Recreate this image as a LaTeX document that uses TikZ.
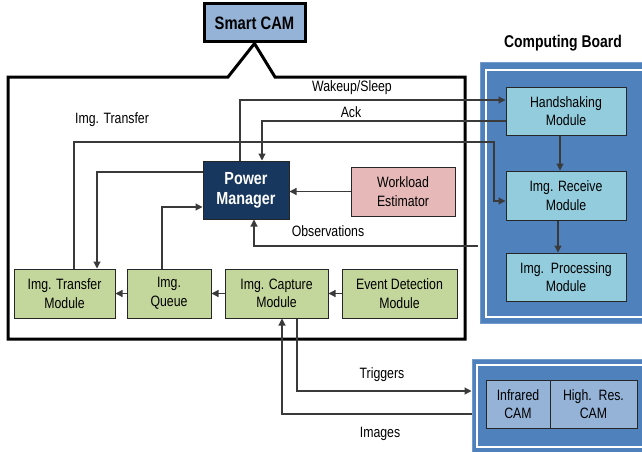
\documentclass[tikz,border=0pt]{standalone}
\usepackage{fontspec}
\setmainfont{Liberation Sans}[FakeStretch=0.82]
\usetikzlibrary{arrows.meta}
\definecolor{camblue}{HTML}{95B3D7}
\definecolor{cbblue}{HTML}{4F81BD}
\definecolor{teal}{HTML}{93CDDD}
\definecolor{navy}{HTML}{17375E}
\definecolor{pink}{HTML}{E6B9B8}
\definecolor{green}{HTML}{C3D69B}
\definecolor{linegray}{HTML}{3A3A3A}
\tikzset{
  box/.style={draw=black!85, line width=1pt, align=center, inner sep=0pt,
    font=\fontsize{15}{18.5}\selectfont},
  conn/.style={draw=linegray, line width=1.2pt, -{Triangle[length=7pt,width=7pt]}},
  plain/.style={draw=linegray, line width=1.2pt},
  lbl/.style={font=\fontsize{15}{18}\selectfont, inner sep=0pt},
  board/.style={fill=cbblue, draw=cbblue!80!white, line width=1pt, inner sep=0pt},
  inner/.style={draw=white, line width=1.6pt},
}
\begin{document}
\begin{tikzpicture}[x=1pt, y=-1pt]
\useasboundingbox (0,0) rectangle (642,452);
% boards
\node[board, minimum width=162pt, minimum height=260pt] (cb) at (561,193) {};
\draw[inner] (642,70) -- (486,70) -- (486,317) -- (642,317);
\node[board, minimum width=170pt, minimum height=93pt] (camb) at (557,405.5) {};
\draw[inner] (642,365) -- (477,365) -- (477,447) -- (642,447);
\node[font=\fontsize{17}{20}\selectfont\bfseries, inner sep=0pt] (cbl) at (563,43) {Computing Board};

% Smart CAM and frame
\node[draw=black, line width=3pt, fill=camblue, minimum width=101pt, minimum height=38pt,
  font=\fontsize{18}{20}\selectfont\bfseries, inner sep=0pt] (sc) at (254.5,23) {Smart CAM};
\draw[line width=3pt, line join=miter] (228,77) -- (sc.south) -- (275,77) -- (465,77) -- (465,339) -- (8,339) -- (8,77) -- cycle;

% computing board modules
\node[box, fill=teal, minimum width=120pt, minimum height=48pt] (hs) at (566,111) {Handshaking\\Module};
\node[box, fill=teal, minimum width=120pt, minimum height=49pt] (rx) at (566,195.5) {Img. Receive\\Module};
\node[box, fill=teal, minimum width=120pt, minimum height=48pt] (pr) at (566,277) {Img.\ \ Processing\\Module};

% camera modules
\node[box, fill=camblue, minimum width=64pt, minimum height=48pt] (ir) at (518,404) {Infrared\\CAM};
\node[box, fill=camblue, minimum width=87pt, minimum height=48pt] (hr) at (593.5,404) {High.\ \ Res.\\CAM};

% smart cam internals
\node[box, fill=navy, text=white, minimum width=86pt, minimum height=58pt,
  font=\fontsize{17.5}{20}\selectfont\bfseries] (pm) at (246,190) {Power\\Manager};
\node[box, fill=pink, minimum width=104pt, minimum height=49pt] (wl) at (403,191.5) {Workload\\Estimator};
\node[box, fill=green, minimum width=101pt, minimum height=49pt] (tm) at (64.5,293.5) {Img. Transfer\\Module};
\node[box, fill=green, minimum width=84pt, minimum height=49pt] (iq) at (169,293.5) {Img.\\Queue};
\node[box, fill=green, minimum width=103pt, minimum height=49pt] (cap) at (276.5,293.5) {Img. Capture\\Module};
\node[box, fill=green, minimum width=115pt, minimum height=49pt] (ev) at (399.5,293.5) {Event Detection\\Module};

% connectors
\draw[conn] ([xshift=-6pt]pm.north) |- ([yshift=11pt]hs.west);
\draw[conn] ([yshift=-10pt]hs.west) -| ([xshift=16pt]pm.north);
\coordinate (itc) at (494,142);
\draw[conn] ([xshift=9.5pt]tm.north) |- (itc) |- ([yshift=-5.5pt]rx.west);
\draw[conn] ([yshift=18pt]pm.west) -| ([xshift=32.5pt]tm.north);
\draw[conn] ([xshift=-7pt]iq.north) |- ([yshift=-17pt]pm.west);
\draw[conn] (wl.west) -- (wl.west -| pm.east);
\draw[conn] ([xshift=-2pt,yshift=-53pt]cb.west) -| ([xshift=8pt]pm.south);
\draw[conn] ([xshift=-6pt]hs.south) -- ([xshift=-6pt]rx.north);
\draw[conn] ([xshift=-8pt]rx.south) -- ([xshift=-8pt]pr.north);
\draw[conn] (ev.west) -- (cap.east);
\draw[conn] (cap.west) -- (iq.east);
\draw[conn] (iq.west) -- (tm.east);
\draw[conn] ([xshift=20.5pt]cap.south) |- ([yshift=14.5pt]camb.west);
\draw[conn] ([yshift=-8.5pt]camb.west) -| ([xshift=5.5pt]cap.south);

% labels
\node[lbl] (lwk) at (352,88) {Wakeup/Sleep};
\node[lbl] (lack) at (351,112) {Ack};
\node[lbl] (lit) at (112,120) {Img. Transfer};
\node[lbl] (lobs) at (328,231) {Observations};
\node[lbl] (ltr) at (382,375) {Triggers};
\node[lbl] (lim) at (380,434) {Images};
\end{tikzpicture}
\end{document}
